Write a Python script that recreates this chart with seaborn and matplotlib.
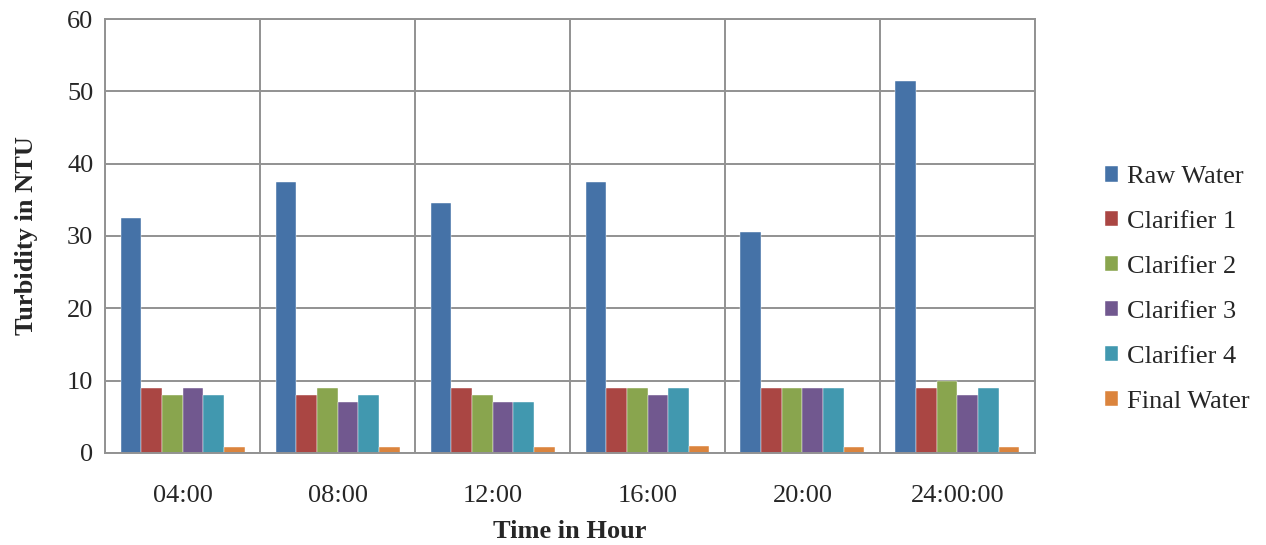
import pandas as pd
import numpy as np
import matplotlib.pyplot as plt
import seaborn as sns
from matplotlib.ticker import MultipleLocator, FixedLocator

times = ["04:00", "08:00", "12:00", "16:00", "20:00", "24:00:00"]
raw_water = [32.5, 37.5, 34.5, 37.5, 30.5, 51.5]
clarifier1 = [9, 8, 9, 9, 9, 9]
clarifier2 = [8, 9, 8, 9, 9, 10]
clarifier3 = [9, 7, 7, 8, 9, 8]
clarifier4 = [8, 8, 7, 9, 9, 9]
final_water = [0.8, 0.8, 0.8, 0.9, 0.8, 0.8]

series = {
    "Raw Water": raw_water,
    "Clarifier 1": clarifier1,
    "Clarifier 2": clarifier2,
    "Clarifier 3": clarifier3,
    "Clarifier 4": clarifier4,
    "Final Water": final_water,
}
colors = ["#4572A7", "#AA4643", "#89A54E", "#71588F", "#4198AF", "#DB843D"]

rows = []
for name, vals in series.items():
    for t, v in zip(times, vals):
        rows.append({"Time": t, "Series": name, "Turbidity": v})
df = pd.DataFrame(rows)

sns.set_style("white")
plt.rcParams['font.family'] = ['Liberation Serif', 'DejaVu Serif']

fig = plt.figure(figsize=(12.66, 5.45), dpi=100)
ax = fig.add_axes([0.083, 0.169, 0.7345, 0.796])

sns.barplot(data=df, x="Time", y="Turbidity", hue="Series", palette=colors,
            width=0.8, ax=ax, saturation=1, edgecolor="white", linewidth=0.3)

ax.set_ylim(0, 60)
ax.set_xlim(-0.5, len(times) - 0.5)
ax.yaxis.set_major_locator(MultipleLocator(10))
ax.xaxis.set_minor_locator(FixedLocator(np.arange(-0.5, len(times), 1)))

grid_c = "#929292"
ax.set_axisbelow(True)
ax.grid(axis="y", which="major", color=grid_c, linewidth=1.4)
ax.grid(axis="x", which="minor", color=grid_c, linewidth=1.4)
ax.grid(axis="x", which="major", visible=False)
for s in ax.spines.values():
    s.set_color(grid_c)
    s.set_linewidth(1.4)

ax.tick_params(axis="x", which="major", length=0, labelsize=19, pad=23)
ax.tick_params(axis="x", which="minor", length=8, width=1.4, color=grid_c, direction="out")
ax.tick_params(axis="y", length=7, width=1.4, color=grid_c, direction="out",
               labelsize=19, pad=1.5)

ax.set_xlabel("Time in Hour", fontsize=19, fontweight="bold", labelpad=9.5)
ax.set_ylabel("Turbidity in NTU", fontsize=19, fontweight="bold", labelpad=21)

leg = ax.legend(loc="center left", bbox_to_anchor=(1.075, 0.376), frameon=False,
                fontsize=19, labelspacing=0.87, handlelength=0.5, handleheight=0.5,
                handletextpad=0.35, borderpad=0, borderaxespad=0)

fig.savefig("out.png", dpi=100)
